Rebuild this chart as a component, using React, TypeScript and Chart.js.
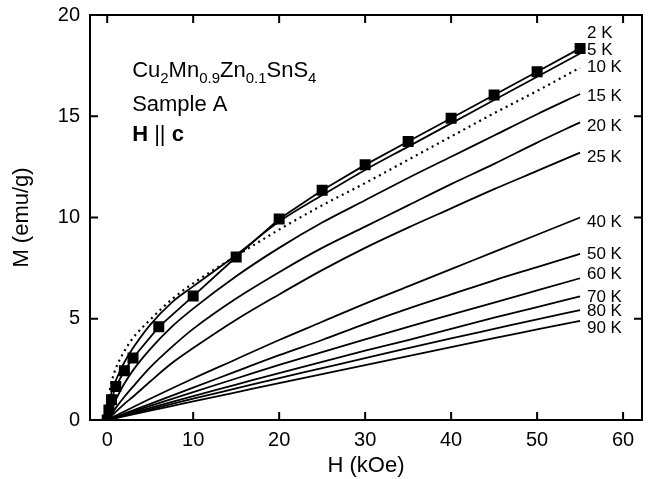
import { useEffect, useRef } from "react";
import { Chart, registerables } from "chart.js";

Chart.register(...registerables);

// ---------- data ----------
const xTicks = [0, 10, 20, 30, 40, 50, 60];
const yTicks = [0, 5, 10, 15, 20];

// 2 K measured points (squares)
const squareH = [0, 0.2, 0.5, 1, 2, 3, 6, 10, 15, 20, 25, 30, 35, 40, 45, 50, 55];
const squareM = [0, 0.5, 1.0, 1.65, 2.43, 3.06, 4.6, 6.12, 8.05, 9.93, 11.35, 12.6, 13.75, 14.9, 16.05, 17.2, 18.35];

// field grid for low-temperature curves
const fieldLow = [0, 0.25, 0.5, 1, 2, 3, 5, 7.5, 10, 15, 20, 25, 30, 35, 40, 45, 50, 55];
const m5K = [0, 0.9, 1.35, 1.95, 2.85, 3.55, 4.7, 5.8, 6.6, 8.15, 9.8, 11.1, 12.35, 13.5, 14.65, 15.8, 16.95, 18.1];
const m10K = [0, 1.3, 1.85, 2.55, 3.4, 4.05, 4.95, 5.95, 6.75, 8.1, 9.4, 10.6, 11.7, 12.85, 14.0, 15.15, 16.25, 17.4];
const m15K = [0, 0.3, 0.55, 1.0, 1.8, 2.45, 3.5, 4.6, 5.5, 7.1, 8.5, 9.75, 10.85, 11.95, 13.0, 14.05, 15.1, 16.1];
const m20K = [0, 0.15, 0.3, 0.6, 1.15, 1.65, 2.6, 3.6, 4.5, 6.0, 7.3, 8.5, 9.55, 10.6, 11.65, 12.65, 13.7, 14.7];
const m25K = [0, 0.1, 0.2, 0.4, 0.8, 1.15, 1.9, 2.8, 3.55, 4.95, 6.2, 7.4, 8.5, 9.5, 10.45, 11.4, 12.3, 13.2];

// field grid for high-temperature curves
const fieldHigh = [0, 5, 10, 15, 20, 25, 30, 35, 40, 45, 50, 55];
const m40K = [0, 1.05, 2.05, 3.0, 3.95, 4.85, 5.75, 6.6, 7.45, 8.3, 9.15, 10.0];
const m50K = [0, 0.8, 1.6, 2.4, 3.2, 3.95, 4.75, 5.5, 6.2, 6.9, 7.55, 8.2];
const m60K = [0, 0.7, 1.38, 2.05, 2.72, 3.35, 3.98, 4.6, 5.2, 5.8, 6.4, 7.0];
const m70K = [0, 0.6, 1.18, 1.75, 2.32, 2.87, 3.42, 3.95, 4.5, 5.05, 5.58, 6.1];
const m80K = [0, 0.53, 1.05, 1.56, 2.07, 2.56, 3.05, 3.55, 4.03, 4.5, 4.97, 5.43];
const m90K = [0, 0.46, 0.92, 1.37, 1.82, 2.27, 2.71, 3.15, 3.6, 4.04, 4.47, 4.9];

// curve labels (text and the M value where each label sits, at H = labelH)
const tempLabels = ["2 K", "5 K", "10 K", "15 K", "20 K", "25 K", "40 K", "50 K", "60 K", "70 K", "80 K", "90 K"];
const labelM = [19.1, 18.27, 17.43, 16.0, 14.52, 12.99, 9.78, 8.2, 7.2, 6.07, 5.38, 4.54];
const labelH = 55.8;

const FONT = "'Liberation Sans', Arial, Helvetica, sans-serif";

const pts = (xs: number[], ys: number[]) => xs.map((x, i) => ({ x, y: ys[i] }));

const framePlugin = {
  id: "frameAndLabels",
  afterDraw(chart: any) {
    const { ctx, chartArea: a, scales } = chart;
    const xs = scales.x;
    const ys = scales.y;
    ctx.save();
    ctx.strokeStyle = "#000";
    ctx.lineWidth = 2;
    ctx.strokeRect(a.left, a.top, a.right - a.left, a.bottom - a.top);
    const tl = 8;
    ctx.beginPath();
    xTicks.forEach((v) => {
      const px = xs.getPixelForValue(v);
      ctx.moveTo(px, a.bottom);
      ctx.lineTo(px, a.bottom - tl);
      ctx.moveTo(px, a.top);
      ctx.lineTo(px, a.top + tl);
    });
    yTicks.forEach((v) => {
      const py = ys.getPixelForValue(v);
      ctx.moveTo(a.left, py);
      ctx.lineTo(a.left + tl, py);
      ctx.moveTo(a.right, py);
      ctx.lineTo(a.right - tl, py);
    });
    ctx.stroke();

    // temperature labels
    ctx.fillStyle = "#000";
    ctx.font = `17px ${FONT}`;
    ctx.textAlign = "left";
    ctx.textBaseline = "middle";
    tempLabels.forEach((t, i) => {
      ctx.fillText(t, xs.getPixelForValue(labelH), ys.getPixelForValue(labelM[i]));
    });

    // annotation
    ctx.textBaseline = "alphabetic";
    let x = xs.getPixelForValue(2.9);
    const y1 = ys.getPixelForValue(16.94);
    const parts: [string, boolean][] = [
      ["Cu", false], ["2", true], ["Mn", false], ["0.9", true],
      ["Zn", false], ["0.1", true], ["SnS", false], ["4", true],
    ];
    parts.forEach(([s, sub]) => {
      ctx.font = sub ? `15px ${FONT}` : `22px ${FONT}`;
      ctx.fillText(s, x, sub ? y1 + 6 : y1);
      x += ctx.measureText(s).width;
    });
    const x0 = xs.getPixelForValue(2.9);
    ctx.font = `22px ${FONT}`;
    ctx.fillText("Sample A", x0, ys.getPixelForValue(15.26));
    const y3 = ys.getPixelForValue(13.78);
    let xx = x0;
    ctx.font = `bold 22px ${FONT}`;
    ctx.fillText("H", xx, y3);
    xx += ctx.measureText("H ").width;
    ctx.font = `22px ${FONT}`;
    ctx.fillText("||", xx, y3);
    xx += ctx.measureText("|| ").width;
    ctx.font = `bold 22px ${FONT}`;
    ctx.fillText("c", xx, y3);
    ctx.restore();
  },
};

export default function App() {
  const ref = useRef<HTMLCanvasElement | null>(null);
  useEffect(() => {
    if (!ref.current) return;
    const line = (data: { x: number; y: number }[], extra: any = {}) => ({
      data,
      borderColor: "#000",
      backgroundColor: "#000",
      borderWidth: 1.8,
      pointRadius: 0,
      showLine: true,
      cubicInterpolationMode: "monotone",
      ...extra,
    });
    const chart = new Chart(ref.current, {
      type: "scatter",
      data: {
        datasets: [
          line(pts(squareH, squareM), { pointRadius: 6.5, pointStyle: "rect", cubicInterpolationMode: "default", tension: 0 }),
          line(pts(fieldLow, m5K)),
          line(pts(fieldLow, m10K), { borderDash: [2, 4], borderWidth: 2.2 }),
          line(pts(fieldLow, m15K)),
          line(pts(fieldLow, m20K)),
          line(pts(fieldLow, m25K)),
          line(pts(fieldHigh, m40K)),
          line(pts(fieldHigh, m50K)),
          line(pts(fieldHigh, m60K)),
          line(pts(fieldHigh, m70K)),
          line(pts(fieldHigh, m80K)),
          line(pts(fieldHigh, m90K)),
        ] as any,
      },
      options: {
        animation: false,
        responsive: false,
        maintainAspectRatio: false,
        layout: { padding: { top: 15, right: 9, left: 0, bottom: 0 } },
        plugins: { legend: { display: false }, tooltip: { enabled: false } },
        scales: {
          x: {
            type: "linear",
            min: -2,
            max: 62.2,
            grid: { display: false, drawTicks: false },
            border: { display: false },
            ticks: { color: "#000", font: { size: 20, family: FONT }, padding: 8, maxRotation: 0 },
            title: { display: true, text: "H (kOe)", color: "#000", font: { size: 22, family: FONT }, padding: { top: 0, bottom: 0 } },
            afterBuildTicks: (s: any) => { s.ticks = xTicks.map((v) => ({ value: v })); },
            afterFit: (s: any) => { s.height = 59; s.paddingLeft = 0; s.paddingRight = 0; },
          },
          y: {
            type: "linear",
            min: 0,
            max: 20,
            grid: { display: false, drawTicks: false },
            border: { display: false },
            ticks: { color: "#000", font: { size: 20, family: FONT }, padding: 10 },
            title: { display: true, text: "M (emu/g)", color: "#000", font: { size: 22, family: FONT }, padding: { top: 9, bottom: 0 } },
            afterBuildTicks: (s: any) => { s.ticks = yTicks.map((v) => ({ value: v })); },
            afterFit: (s: any) => { s.width = 90; s.paddingTop = 0; s.paddingBottom = 0; },
          },
        },
      } as any,
      plugins: [framePlugin],
    });
    return () => chart.destroy();
  }, []);
  return (
    <div style={{ position: "fixed", left: 0, top: 0, width: 651, height: 479, background: "#fff" }}>
      <canvas ref={ref} width={651} height={479} style={{ display: "block" }} />
    </div>
  );
}
